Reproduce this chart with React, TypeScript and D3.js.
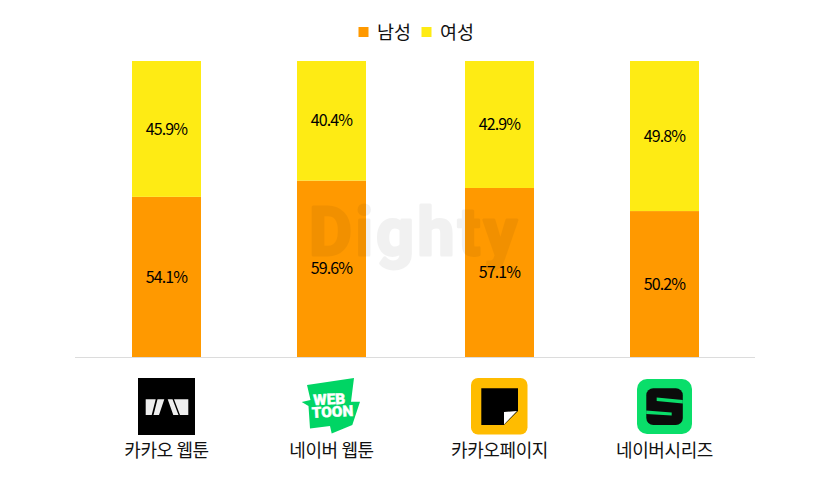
import React, { useEffect, useRef } from 'react';
import * as d3 from 'd3';

const services = ['카카오 웹툰', '네이버 웹툰', '카카오페이지', '네이버시리즈'];
// bar shares as measured; the last bar is drawn a little shorter than its 50.2% label says
const male = [54.1, 59.6, 57.1, 49.3];
const female = [45.9, 40.4, 42.9, 50.7];
const maleLabels = ['54.1%', '59.6%', '57.1%', '50.2%'];
const femaleLabels = ['45.9%', '40.4%', '42.9%', '49.8%'];
const seriesNames = ['남성', '여성'];

const ORANGE = '#ff9900';
const YELLOW = '#feeb14';
const FONT = '"Noto Sans CJK KR", "Noto Sans", sans-serif';

// centres are not evenly spaced in the original
const x = d3.scaleOrdinal<string, number>().domain(services).range([166.5, 331.5, 499.5, 664.5]);
const y = d3.scaleLinear().domain([0, 100]).range([357, 61]);
const barWidth = 69;

function KakaoWebtoon() {
  return (
    <g>
      <rect x={138} y={378} width={57} height={57} fill="#000" />
      <path d="M145.700 399.300H155.700L151.700 415H145.700ZM157.500 399.300H164.300L159 415H153.500ZM167.700 399.300H172.500L178.500 415H173.300ZM174 399.300H188.300V415H180Z" fill="#eee" />
    </g>
  );
}

function NaverWebtoon() {
  return (
    <g>
      <path d="M307 385L354 378L351 401.700L360 401.700L352.300 425L331.700 433.500L330 426L310 428.500L308.500 406L301.700 402L310.500 400Z" fill="#00d564" />
      <g fill="#fff" fontFamily="Roboto, sans-serif" fontWeight={900} stroke="#fff" strokeWidth={0.4}>
        <text x={313.500} y={404.500} fontSize={15} textLength={32} lengthAdjust="spacingAndGlyphs" transform="rotate(-3 329 404)">WEB</text>
        <text x={312} y={417} fontSize={15} textLength={41.500} lengthAdjust="spacingAndGlyphs" transform="rotate(-3 332 417)">TOON</text>
      </g>
    </g>
  );
}

function KakaoPage() {
  return (
    <g>
      <rect x={471} y={378} width={56.500} height={56.500} rx={7} fill="#ffbc00" />
      <path d="M481.300 388.300H518V411L504 425H481.300Z" fill="#000" />
      <path d="M504 412L517 411L504 424.500Z" fill="#fff" />
    </g>
  );
}

function NaverSeries() {
  return (
    <g>
      <rect x={637} y={379} width={55} height={55} rx={10} fill="#0ade6a" />
      <rect x={646.300} y={388.300} width={36.500} height={36.700} rx={7} fill="#0b0b0b" />
      <path d="M656.700 397.500L682.800 400V403.500L656.700 401Z" fill="#0ade6a" />
      <path d="M646.200 410.500L671.700 412.500V415.500L646.200 414Z" fill="#0ade6a" />
    </g>
  );
}

export default function App() {
  const svgRef = useRef<SVGSVGElement>(null);

  useEffect(() => {
    if (!svgRef.current) return;
    const svg = d3.select(svgRef.current).select<SVGGElement>('g.chart');
    svg.selectAll('*').remove();

    // male on the bottom, female stacked on top
    const rows = services.map((s, i) => ({ service: s, male: male[i], female: female[i], i }));
    const stacked = d3.stack<any>().keys(['male', 'female'])(rows);
    const colors = [ORANGE, YELLOW];
    const labels = [maleLabels, femaleLabels];

    stacked.forEach((layer, k) => {
      svg.append('g')
        .selectAll('rect')
        .data(layer)
        .enter()
        .append('rect')
        .attr('x', d => x(d.data.service) - barWidth / 2)
        .attr('width', barWidth)
        .attr('y', d => y(d[1]))
        .attr('height', d => y(d[0]) - y(d[1]))
        .attr('fill', colors[k]);

      svg.append('g')
        .selectAll('text')
        .data(layer)
        .enter()
        .append('text')
        .attr('x', d => x(d.data.service))
        .attr('y', d => y((d[0] + d[1]) / 2))
        .attr('dy', '0.35em')
        .attr('text-anchor', 'middle')
        .attr('font-family', FONT)
        .attr('font-size', 16)
        .attr('letter-spacing', -0.9)
        .attr('fill', '#000')
        .text(d => labels[k][d.data.i]);
    });

    // baseline
    svg.append('line')
      .attr('x1', 75)
      .attr('x2', 755)
      .attr('y1', y(0) + 0.5)
      .attr('y2', y(0) + 0.5)
      .attr('stroke', '#dcdcdc');

    // service names
    svg.append('g')
      .selectAll('text')
      .data(services)
      .enter()
      .append('text')
      .attr('x', d => x(d))
      .attr('y', 457)
      .attr('text-anchor', 'middle')
      .attr('font-family', FONT)
      .attr('font-size', 18)
      .attr('letter-spacing', -0.4)
      .attr('fill', '#111')
      .text(d => d);

    // legend
    const legend = svg.append('g');
    const legendX = d3.scaleOrdinal<string, number>().domain(seriesNames).range([358.5, 421.5]);
    legend.selectAll('rect')
      .data(seriesNames)
      .enter()
      .append('rect')
      .attr('x', d => legendX(d))
      .attr('y', 27)
      .attr('width', 10)
      .attr('height', 10)
      .attr('fill', (_, i) => colors[i]);
    legend.selectAll('text')
      .data(seriesNames)
      .enter()
      .append('text')
      .attr('x', d => legendX(d) + 18.5)
      .attr('y', 39)
      .attr('font-family', FONT)
      .attr('font-size', 18.5)
      .attr('fill', '#111')
      .text(d => d);
  }, []);

  return (
    <svg ref={svgRef} width={830} height={480} style={{ position: 'absolute', left: 0, top: 0, background: '#fff' }}>
      <g className="chart" />
      <g opacity={0.05}>
        <text x={309} y={255} fontFamily="Roboto, sans-serif" fontWeight={700} fontSize={66} letterSpacing={3.5} fill="#000" stroke="#000" strokeWidth={3} strokeLinejoin="round">Dighty</text>
      </g>
      <KakaoWebtoon />
      <NaverWebtoon />
      <KakaoPage />
      <NaverSeries />
    </svg>
  );
}
